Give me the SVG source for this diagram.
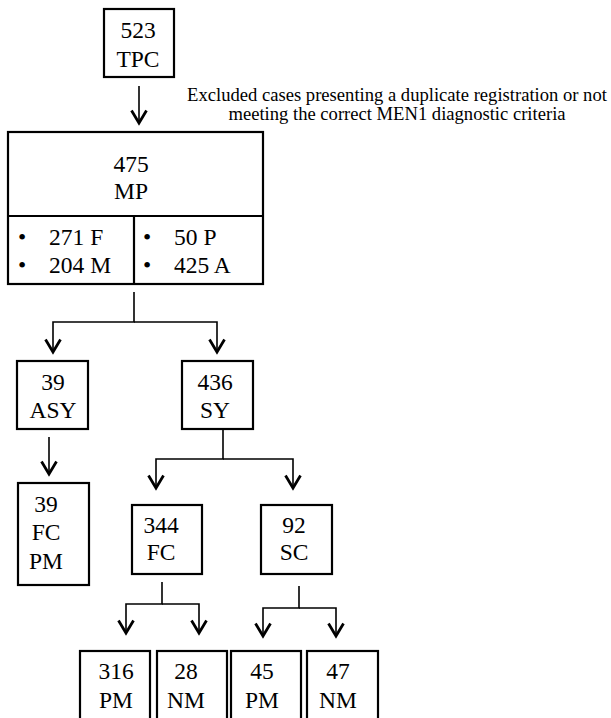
<svg xmlns="http://www.w3.org/2000/svg" width="611" height="718" viewBox="0 0 611 718">
<style>
.box{fill:#fff;stroke:#000;stroke-width:2.2}
.t{font-family:"Liberation Serif","Times New Roman",serif;font-size:23.5px;fill:#000}
.m{text-anchor:middle}
.note{font-family:"Liberation Serif","Times New Roman",serif;font-size:18.6px;fill:#000;text-anchor:middle}
.c{fill:none;stroke:#000;stroke-width:1.6}
</style>
<defs>
<marker id="ah" markerUnits="userSpaceOnUse" markerWidth="20" markerHeight="20" viewBox="-12 -8 14 16" refX="0" refY="0" orient="auto">
<path d="M-10,-6 L0,0 L-10,6" fill="none" stroke="#000" stroke-width="2.2"/>
</marker>
</defs>
<rect width="611" height="718" fill="#fff"/>
<g id="connectors">
<path class="c" d="M139,86 V123" marker-end="url(#ah)"/>
<path class="c" d="M134,292 V322 H53 V352" marker-end="url(#ah)"/>
<path class="c" d="M134,322 H217 V352" marker-end="url(#ah)"/>
<path class="c" d="M49,437 V474" marker-end="url(#ah)"/>
<path class="c" d="M223,429 V459 H156 V488" marker-end="url(#ah)"/>
<path class="c" d="M223,459 H293 V488" marker-end="url(#ah)"/>
<path class="c" d="M162,582 V604 H126 V633" marker-end="url(#ah)"/>
<path class="c" d="M162,604 H199 V633" marker-end="url(#ah)"/>
<path class="c" d="M299,586 V608 H263 V636" marker-end="url(#ah)"/>
<path class="c" d="M299,608 H336 V636" marker-end="url(#ah)"/>
</g>
<g id="tpc">
<rect class="box" x="104" y="9" width="70" height="68"/>
<text class="t m" x="138" y="38">523</text>
<text class="t m" x="138" y="67">TPC</text>
</g>
<g id="note">
<text class="note" x="397" y="101">Excluded cases presenting a duplicate registration or not</text>
<text class="note" x="397" y="120">meeting the correct MEN1 diagnostic criteria</text>
</g>
<g id="mp">
<rect class="box" x="8" y="132" width="255" height="152"/>
<line x1="8" y1="216" x2="263" y2="216" stroke="#000" stroke-width="2.2"/>
<line x1="134" y1="216" x2="134" y2="284" stroke="#000" stroke-width="2.2"/>
<text class="t m" x="131" y="172">475</text>
<text class="t m" x="131" y="199">MP</text>
<text class="t" x="18" y="245">•</text>
<text class="t" x="49" y="245">271 F</text>
<text class="t" x="18" y="273">•</text>
<text class="t" x="49" y="273">204 M</text>
<text class="t" x="143" y="245">•</text>
<text class="t" x="174" y="245">50 P</text>
<text class="t" x="143" y="273">•</text>
<text class="t" x="174" y="273">425 A</text>
</g>
<g id="asy">
<rect class="box" x="17" y="361" width="71" height="68"/>
<text class="t m" x="53" y="390">39</text>
<text class="t m" x="53" y="418">ASY</text>
</g>
<g id="sy">
<rect class="box" x="182" y="361" width="71" height="68"/>
<text class="t m" x="215" y="390">436</text>
<text class="t m" x="215" y="418">SY</text>
</g>
<g id="fcpm">
<rect class="box" x="18" y="483" width="71" height="102"/>
<text class="t m" x="46" y="512">39</text>
<text class="t m" x="46" y="540">FC</text>
<text class="t m" x="46" y="569">PM</text>
</g>
<g id="fc">
<rect class="box" x="132" y="505" width="70" height="69"/>
<text class="t m" x="161" y="533">344</text>
<text class="t m" x="161" y="560">FC</text>
</g>
<g id="sc">
<rect class="box" x="261" y="505" width="71" height="69"/>
<text class="t m" x="294" y="533">92</text>
<text class="t m" x="294" y="560">SC</text>
</g>
<g id="fc-pm">
<rect class="box" x="80" y="651" width="70" height="80"/>
<text class="t m" x="116" y="679">316</text>
<text class="t m" x="116" y="708">PM</text>
</g>
<g id="fc-nm">
<rect class="box" x="157" y="651" width="70" height="80"/>
<text class="t m" x="186" y="679">28</text>
<text class="t m" x="186" y="708">NM</text>
</g>
<g id="sc-pm">
<rect class="box" x="231" y="651" width="70" height="80"/>
<text class="t m" x="262" y="679">45</text>
<text class="t m" x="262" y="708">PM</text>
</g>
<g id="sc-nm">
<rect class="box" x="307" y="651" width="71" height="80"/>
<text class="t m" x="338" y="679">47</text>
<text class="t m" x="338" y="708">NM</text>
</g>
</svg>
